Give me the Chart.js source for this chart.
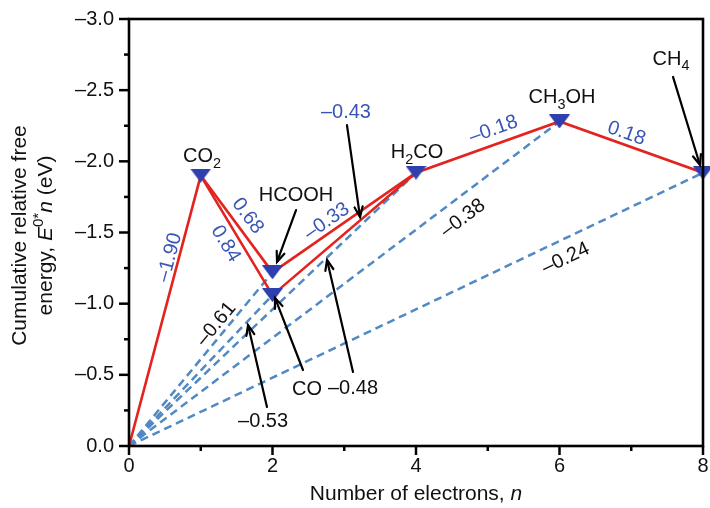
<!DOCTYPE html>
<html>
<head>
<meta charset="utf-8">
<script src="https://cdn.jsdelivr.net/npm/chart.js@4/dist/chart.umd.min.js"></script>
<style>
  html, body { margin: 0; padding: 0; background: #fff; }
</style>
</head>
<body>
<canvas id="chart" width="710" height="508"></canvas>
<script>
// Intermediates of CO2 reduction and their cumulative free energy E0*n (eV)
const species = ['CO2', 'HCOOH', 'CO', 'H2CO', 'CH3OH', 'CH4'];
const electrons = [1, 2, 2, 4, 6, 8];
const cumulativeEnergy = [-1.90, -1.22, -1.06, -1.92, -2.28, -1.92];

// Reaction pathways (red), '' is the starting point (n = 0, E = 0)
const mainPath = ['', 'CO2', 'HCOOH', 'H2CO', 'CH3OH', 'CH4'];
const coPath = ['CO2', 'CO', 'H2CO'];

// Step potentials written along each red segment
const stepFrom = ['', 'CO2', 'CO2', 'HCOOH', 'CO', 'H2CO', 'CH3OH'];
const stepTo = ['CO2', 'HCOOH', 'CO', 'H2CO', 'H2CO', 'CH3OH', 'CH4'];
const stepPotential = ['–1.90', '0.68', '0.84', '–0.33', '–0.43', '–0.18', '0.18'];

// Average potentials E0 from the origin (blue dashed)
const averageTo = ['HCOOH', 'CO', 'H2CO', 'CH3OH', 'CH4'];
const averagePotential = ['–0.61', '–0.53', '–0.48', '–0.38', '–0.24'];

// Axis ticks
const xTicks = [0, 2, 4, 6, 8];
const yTicks = [0, -0.5, -1.0, -1.5, -2.0, -2.5, -3.0];

// ---- layout of the annotations (data units) ----
const speciesLabelAt = {
  CO2: [1.019, -2.045], HCOOH: [2.328, -1.771], CO: [2.481, -0.408],
  H2CO: [4.014, -2.073], CH3OH: [6.035, -2.459], CH4: [7.554, -2.730]
};
// [x, y, followSegment]
const stepLabelAt = [
  [0.544, -1.328, true], [1.672, -1.623, true], [1.366, -1.426, true],
  [2.746, -1.588, true], [3.024, -2.354, false], [5.073, -2.234, true],
  [6.941, -2.206, true]
];
const averageLabelAt = [
  [1.199, -0.864, true], [1.868, -0.183, false], [3.122, -0.415, false],
  [4.641, -1.609, true], [6.077, -1.328, true]
];
// pointer arrows: tail -> head
const arrows = [
  [2.328, -1.658, 2.063, -1.293],
  [3.038, -2.255, 3.220, -1.609],
  [2.425, -0.534, 2.035, -1.040],
  [3.122, -0.520, 2.760, -1.307],
  [1.923, -0.274, 1.659, -0.850],
  [7.582, -2.593, 7.958, -1.974]
];

const FONT = '"Liberation Sans", Arial, Helvetica, sans-serif';
const RED = '#e2231f';
const DASH_BLUE = '#5089c4';
const MARK_BLUE = '#2e3fae';
const TEXT_BLUE = '#3a55b6';

function pointOf(name) {
  if (name === '') return { x: 0, y: 0 };
  const i = species.indexOf(name);
  return { x: electrons[i], y: cumulativeEnergy[i] };
}

function downTriangle(w, h, color) {
  const c = document.createElement('canvas');
  c.width = w; c.height = h;
  const g = c.getContext('2d');
  g.fillStyle = color;
  g.beginPath();
  g.moveTo(0, 0); g.lineTo(w, 0); g.lineTo(w / 2, h);
  g.closePath(); g.fill();
  return c;
}

// split a formula so that digits become subscripts
function chem(str) {
  const parts = [];
  str.replace(/(\d+|\D+)/g, (m) => { parts.push([m, /\d/.test(m) ? 'sub' : '']); return m; });
  return parts;
}

function fontFor(kind, size) {
  const sz = (kind === 'sub' || kind === 'sup') ? size * 0.72 : size;
  return (kind === 'i' ? 'italic ' : '') + sz.toFixed(1) + 'px ' + FONT;
}

// draw mixed text centred on (cx, cy) with rotation (radians)
function drawRich(ctx, parts, cx, cy, size, color, angle) {
  ctx.save();
  ctx.translate(cx, cy);
  ctx.rotate(angle || 0);
  ctx.fillStyle = color;
  ctx.textBaseline = 'alphabetic';
  ctx.textAlign = 'left';
  let total = 0;
  for (const [t, k] of parts) { ctx.font = fontFor(k, size); total += ctx.measureText(t).width; }
  let x = -total / 2;
  const base = size * 0.358;
  for (const [t, k] of parts) {
    ctx.font = fontFor(k, size);
    let dy = 0;
    if (k === 'sub') dy = size * 0.28;
    if (k === 'sup') dy = -size * 0.42;
    ctx.fillText(t, x, base + dy);
    x += ctx.measureText(t).width;
  }
  ctx.restore();
}

function drawArrow(ctx, x1, y1, x2, y2) {
  const a = Math.atan2(y2 - y1, x2 - x1);
  const L = 11, s = 0.38;
  ctx.beginPath();
  ctx.moveTo(x1, y1); ctx.lineTo(x2, y2);
  ctx.stroke();
  ctx.beginPath();
  ctx.moveTo(x2 - L * Math.cos(a - s), y2 - L * Math.sin(a - s));
  ctx.lineTo(x2, y2);
  ctx.lineTo(x2 - L * Math.cos(a + s), y2 - L * Math.sin(a + s));
  ctx.stroke();
}

const annotations = {
  id: 'annotations',
  afterDatasetsDraw(chart) {
    const ctx = chart.ctx;
    const xs = chart.scales.x, ys = chart.scales.y;
    const px = (v) => xs.getPixelForValue(v);
    const py = (v) => ys.getPixelForValue(v);
    const segAngle = (a, b) => {
      const p = pointOf(a), q = pointOf(b);
      return Math.atan2(py(q.y) - py(p.y), px(q.x) - px(p.x));
    };

    // species names
    species.forEach((name) => {
      const [x, y] = speciesLabelAt[name];
      drawRich(ctx, chem(name), px(x), py(y), 20, '#111', 0);
    });

    // step potentials (blue)
    stepPotential.forEach((label, i) => {
      const [x, y, along] = stepLabelAt[i];
      const ang = along ? segAngle(stepFrom[i], stepTo[i]) : 0;
      drawRich(ctx, [[label, '']], px(x), py(y), 20, TEXT_BLUE, ang);
    });

    // average potentials (black)
    averagePotential.forEach((label, i) => {
      const [x, y, along] = averageLabelAt[i];
      const ang = along ? segAngle('', averageTo[i]) : 0;
      drawRich(ctx, [[label, '']], px(x), py(y), 20, '#111', ang);
    });

    // arrows
    ctx.save();
    ctx.strokeStyle = '#000';
    ctx.lineWidth = 2.2;
    ctx.lineCap = 'round';
    ctx.lineJoin = 'miter';
    arrows.forEach(([x1, y1, x2, y2]) => drawArrow(ctx, px(x1), py(y1), px(x2), py(y2)));
    ctx.restore();
  },
  afterDraw(chart) {
    const ctx = chart.ctx;
    const { left, right, top, bottom } = chart.chartArea;
    const xs = chart.scales.x, ys = chart.scales.y;
    ctx.save();
    ctx.strokeStyle = '#000';
    ctx.lineWidth = 2.5;
    ctx.lineCap = 'butt';
    // major and minor tick marks
    for (let i = 0; i < xTicks.length; i++) {
      const x = xs.getPixelForValue(xTicks[i]);
      ctx.beginPath(); ctx.moveTo(x, bottom); ctx.lineTo(x, bottom + 9); ctx.stroke();
      if (i < xTicks.length - 1) {
        const xm = xs.getPixelForValue((xTicks[i] + xTicks[i + 1]) / 2);
        ctx.beginPath(); ctx.moveTo(xm, bottom); ctx.lineTo(xm, bottom + 5); ctx.stroke();
      }
    }
    for (let i = 0; i < yTicks.length; i++) {
      const y = ys.getPixelForValue(yTicks[i]);
      ctx.beginPath(); ctx.moveTo(left, y); ctx.lineTo(left - 10, y); ctx.stroke();
      if (i < yTicks.length - 1) {
        const ym = ys.getPixelForValue((yTicks[i] + yTicks[i + 1]) / 2);
        ctx.beginPath(); ctx.moveTo(left, ym); ctx.lineTo(left - 5, ym); ctx.stroke();
      }
    }
    // frame
    ctx.lineWidth = 2.6;
    ctx.strokeRect(left, top, right - left, bottom - top);
    ctx.restore();

    // axis titles
    drawRich(ctx, [['Number of electrons, ', ''], ['n', 'i']], (left + right) / 2, 492, 21, '#111', 0);
    const cy = (top + bottom) / 2 + 3;
    drawRich(ctx, [['Cumulative relative free', '']], 18, cy, 21, '#111', -Math.PI / 2);
    drawRich(ctx, [['energy, ', ''], ['E', 'i'], ['0*', 'sup'], ['n', 'i'], [' (eV)', '']], 44, cy, 21, '#111', -Math.PI / 2);
  }
};

const marker = downTriangle(21, 14, MARK_BLUE);

const datasets = [];
// markers on top
datasets.push({
  data: species.map((s, i) => ({ x: electrons[i], y: cumulativeEnergy[i] })),
  showLine: false,
  pointStyle: marker,
  pointRadius: 10,
  clip: false
});
// red pathways
[mainPath, coPath].forEach((path) => {
  datasets.push({
    data: path.map(pointOf),
    showLine: true,
    borderColor: RED,
    borderWidth: 2.6,
    pointRadius: 0,
    fill: false,
    tension: 0,
    borderJoinStyle: 'miter'
  });
});
// dashed average-potential lines from the origin
averageTo.forEach((name) => {
  datasets.push({
    data: [pointOf(''), pointOf(name)],
    showLine: true,
    borderColor: DASH_BLUE,
    borderWidth: 2.5,
    borderDash: [8, 5],
    pointRadius: 0,
    fill: false
  });
});

// fixed axis box sizes so the plot area sits at 129..703 x 19..446
function noScalePadding(s) {
  s.paddingTop = 0; s.paddingBottom = 0; s.paddingLeft = 0; s.paddingRight = 0;
}

new Chart(document.getElementById('chart'), {
  type: 'scatter',
  data: { datasets },
  options: {
    responsive: false,
    animation: false,
    devicePixelRatio: 1,
    layout: { autoPadding: false, padding: { left: 0, top: 19, right: 7, bottom: 0 } },
    plugins: { legend: { display: false }, tooltip: { enabled: false } },
    scales: {
      x: {
        type: 'linear',
        min: 0, max: 8,
        grid: { display: false, drawTicks: false },
        border: { display: false },
        afterBuildTicks: (s) => { s.ticks = xTicks.map((v) => ({ value: v })); },
        afterFit: (s) => { s.height = 62; noScalePadding(s); },
        ticks: {
          padding: 8,
          color: '#111',
          font: { family: FONT, size: 20 },
          callback: (v) => String(v)
        }
      },
      y: {
        type: 'linear',
        min: -3, max: 0,
        reverse: true,
        grid: { display: false, drawTicks: false },
        border: { display: false },
        afterBuildTicks: (s) => { s.ticks = yTicks.map((v) => ({ value: v })); },
        afterFit: (s) => { s.width = 129; noScalePadding(s); },
        ticks: {
          padding: 15,
          color: '#111',
          font: { family: FONT, size: 20 },
          callback: (v) => (v === 0 ? '0.0' : '–' + Math.abs(v).toFixed(1))
        }
      }
    }
  },
  plugins: [annotations]
});
</script>
</body>
</html>
